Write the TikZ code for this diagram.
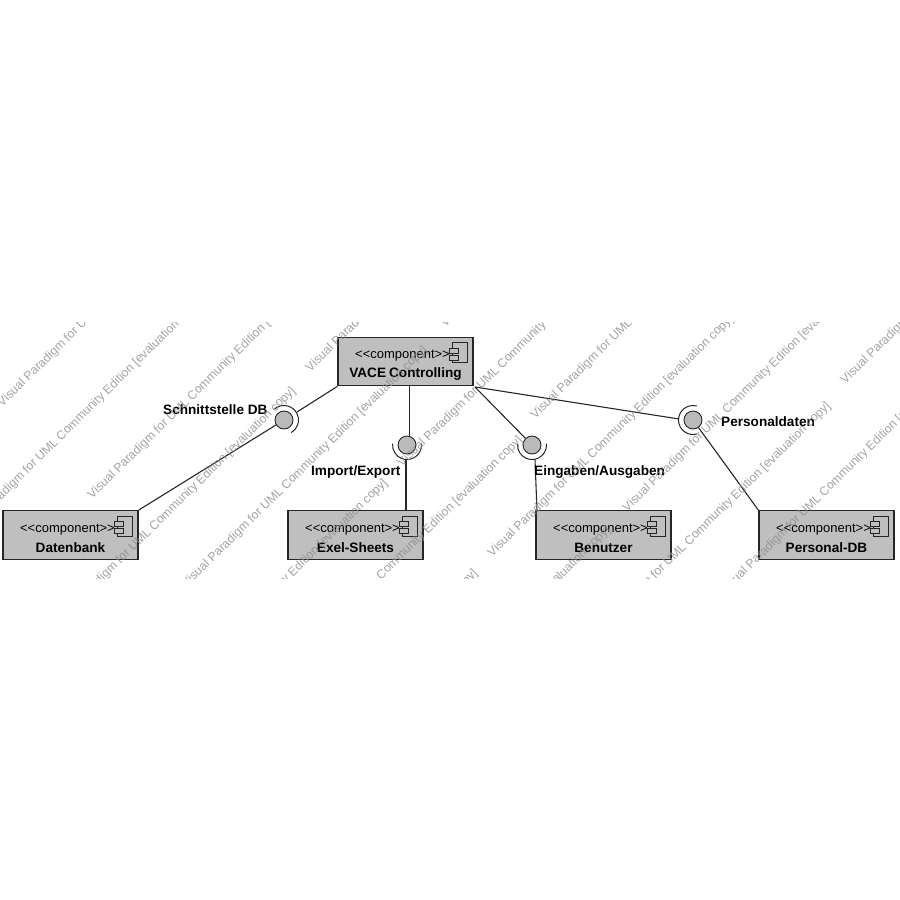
\documentclass[tikz,border=0pt]{standalone}
\usepackage{fontspec}
\setmainfont{Liberation Sans}
\tikzset{
  comp/.style={draw=black!85,line width=1.2pt,fill=black!25,minimum width=135pt,minimum height=48.5pt,inner sep=0pt},
  stereotext/.style={font=\fontsize{13}{15}\selectfont,inner sep=0pt},
  nametext/.style={font=\fontsize{13.6}{15}\selectfont\bfseries,inner sep=0pt},
  ball/.style={circle,draw=black!85,line width=0.9pt,fill=black!27,minimum size=18pt,inner sep=0pt},
  sock/.style={draw=black!85,line width=1pt},
  conn/.style={draw=black!85,line width=1.1pt},
  lab/.style={font=\fontsize{13.6}{15}\selectfont\bfseries,inner sep=0pt},
  wm/.style={font=\fontsize{12.3}{14}\selectfont,text=black!45,opacity=0.8,rotate=44.5,anchor=west,inner sep=0pt},
  iconbox/.style={draw=black!85,line width=0.9pt},
  iconsmall/.style={draw=black!85,line width=0.9pt,fill=black!25}
}
\newcommand{\compbox}[4]{%
  \node[comp] (#1) at (#2,#3) {};
  \node[stereotext] (#1s) at ([shift={(-3,-5.6)}]#1.center) {<{}<component>{}>};
  \node[nametext] (#1n) at ([shift={(0,13)}]#1.center) {#4};
  \draw[iconbox] ([shift={(-21,6)}]#1.north east) rectangle ([shift={(-6,26)}]#1.north east);
  \draw[iconsmall] ([shift={(-24,11.5)}]#1.north east) rectangle ([shift={(-15,16.5)}]#1.north east);
  \draw[iconsmall] ([shift={(-24,18.5)}]#1.north east) rectangle ([shift={(-15,23.5)}]#1.north east);
}
\begin{document}
\begin{tikzpicture}[x=1pt,y=-1pt]
\useasboundingbox (0,0) rectangle (900,900);
\compbox{vace}{405.5}{361.5}{VACE\kern3pt Controlling}
\compbox{dat}{70.5}{535}{Datenbank}
\compbox{exel}{355.5}{535}{Exel-Sheets}
\compbox{ben}{603.5}{535}{Benutzer}
\compbox{pers}{826.5}{535}{Personal-DB}
% balls
\node[ball] (b1) at (284,420) {};
\node[ball] (b2) at (407,445) {};
\node[ball] (b3) at (532,445) {};
\node[ball] (b4) at (693,420) {};
% sockets (angles are mirrored: y grows downwards)
\draw[sock] (284,420) ++(-130:14.5) arc[start angle=-130,end angle=60,radius=14.5];
\draw[sock] (407,445) ++(-5:14.5) arc[start angle=-5,end angle=185,radius=14.5];
\draw[sock] (532,445) ++(-5:14.5) arc[start angle=-5,end angle=185,radius=14.5];
\draw[sock] (693,420) ++(75:14.5) arc[start angle=75,end angle=285,radius=14.5];
% ports
\coordinate (p1) at (297,412);
\coordinate (p2a) at (409.5,386);
\coordinate (p2t) at (409.5,436.5);
\coordinate (p2b) at (406,459.5);
\coordinate (p2e) at (406,511);
\coordinate (p3a) at (475,387);
\coordinate (p3b) at (535,459.5);
\coordinate (p3e) at (537,511);
\coordinate (p4a) at (679,419);
% connectors
\draw[conn] (vace.south west) -- (p1);
\draw[conn] (dat.north east) -- (b1);
\draw[conn] (p2a) -- (p2t);
\draw[conn] (p2b) -- (p2e);
\draw[conn] (p3a) -- (b3);
\draw[conn] (p3b) -- (p3e);
\draw[conn] (p3a) -- (p4a);
\draw[conn] (pers.north west) -- (b4);
% labels
\node[lab,anchor=west] (l1) at (163,410) {Schnittstelle DB};
\node[lab,anchor=west] (l2) at (311,472) {Import/Export};
\node[lab,anchor=west] (l3) at (534,472) {Eingaben/Ausgaben};
\node[lab,anchor=west] (l4) at (721,422) {Personaldaten};
% watermark
\begin{scope}
\clip (0,322) rectangle (900,578);
\foreach \p/\q in {0/405,-41/537,90/497,52/627,308/370,184/586,443/325,144/719,400/465,279/676,533/417,234/809,490/555,367/766,625/510,587/642,843/382,722/593}{
  \node[wm] at (\p,\q) {Visual Paradigm for UML Community Edition [evaluation copy]};
}
\end{scope}
\end{tikzpicture}
\end{document}
